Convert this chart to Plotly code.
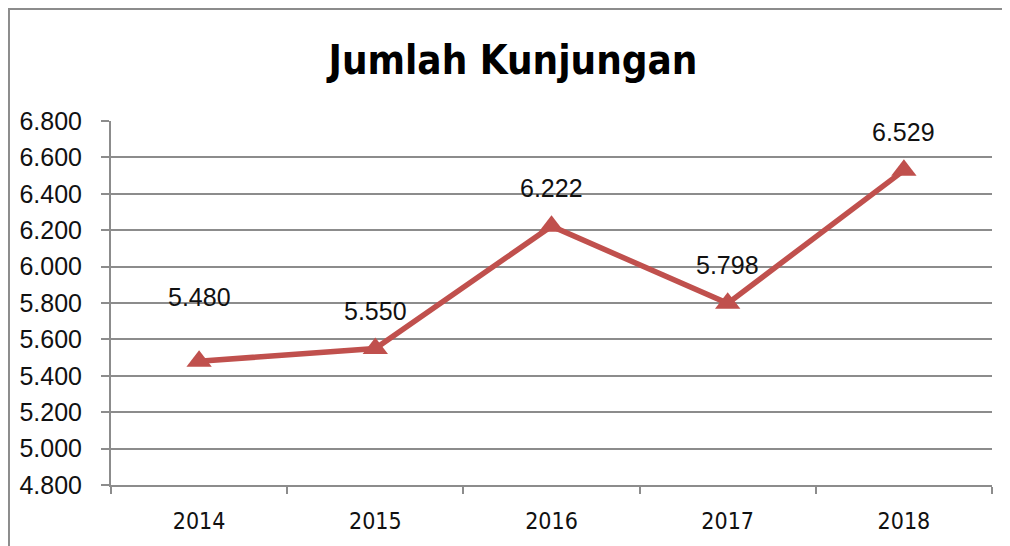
import plotly.graph_objects as go

years = ["2014", "2015", "2016", "2017", "2018"]
visits = [5480, 5550, 6222, 5798, 6529]
label_shift = [64, 38, 38, 38, 38]
y_ticks = [4800, 5000, 5200, 5400, 5600, 5800, 6000, 6200, 6400, 6600, 6800]

line_color = "#C0504D"
grid_color = "#8C8C8C"

fig = go.Figure()
fig.add_trace(go.Scatter(
    x=years, y=visits, mode="lines+markers",
    line=dict(color=line_color, width=5.5),
    marker=dict(symbol="triangle-up", size=22, color=line_color),
    hoverinfo="skip", showlegend=False,
))

for i, (y, s) in enumerate(zip(visits, label_shift)):
    fig.add_annotation(
        x=i, y=y, xref="x", yref="y", text=f"{y:,}".replace(",", "."), showarrow=False,
        yshift=s, font=dict(family="Liberation Sans, Arial, sans-serif", size=25, color="#111111"),
    )

fig.update_layout(
    width=1010, height=546,
    margin=dict(l=103, r=26, t=113, b=69),
    paper_bgcolor="white", plot_bgcolor="white",
    separators=",.",
    title=dict(
        text="<b>Jumlah Kunjungan</b>",
        x=0.5, xref="container", xanchor="center",
        y=0.905, yref="container", yanchor="middle",
        font=dict(family="DejaVu Sans Condensed, sans-serif", size=40, color="black"),
    ),
    xaxis=dict(
        type="category", range=[-0.5, 4.5],
        tickson="boundaries", ticks="outside", ticklen=7, tickcolor=grid_color, tickwidth=1.5,
        showline=True, linecolor=grid_color, linewidth=2,
        showgrid=False, zeroline=False,
        tickfont=dict(family="DejaVu Sans Condensed, sans-serif", size=23, color="#111111"),
        ticklabelstandoff=14,
    ),
    yaxis=dict(
        range=[4800, 6800], tickvals=y_ticks, tickformat=",d",
        ticks="outside", ticklen=8, tickcolor=grid_color, tickwidth=1.5,
        showline=True, linecolor=grid_color, linewidth=2,
        showgrid=True, gridcolor=grid_color, gridwidth=1.5, zeroline=False,
        tickfont=dict(family="Liberation Sans, Arial, sans-serif", size=25, color="#111111"),
        ticklabelstandoff=14,
    ),
    shapes=[dict(
        type="rect", xref="paper", yref="paper",
        x0=-0.1158, x1=1.2, y0=-0.5, y1=1.3077,
        line=dict(color="#8C8C8C", width=2), fillcolor="rgba(0,0,0,0)", layer="below",
    )],
)

fig.write_html("out.html")
